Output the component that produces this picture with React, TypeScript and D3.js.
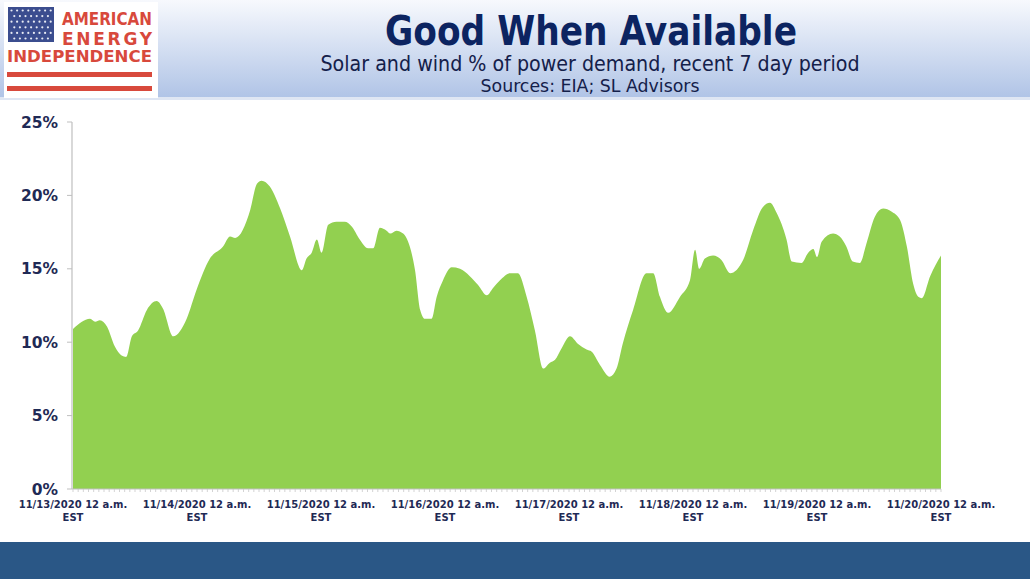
import * as d3 from 'd3';

// hours since 11/13/2020 12 a.m. EST, and solar + wind share of demand (%)
const hours = [
  0, 3.3, 4.3, 5.2, 6.6, 8.1, 9.4, 10.3, 11.4, 12.6, 14.3, 16.2, 17.4, 19.4, 22, 23.9,
  26.5, 29, 30.4, 31.4, 34.3, 35.6, 36.5, 38.1, 40.1, 42, 44.3, 45.2, 46.2, 47.2, 48.1,
  49.4, 51, 52.6, 53.9, 55.5, 57.1, 58.1, 59.4, 60.7, 61.4, 62.6, 63.9, 65.2, 66.2, 67.2,
  68.1, 69.4, 70.4, 71.6, 73.3, 74.9, 76.8, 78.4, 80.1, 81.3, 82.6, 84.6, 86.1, 87.8,
  89.4, 91, 92.3, 93.3, 94.6, 96.2, 97.7, 99.4, 100.4, 102, 103.9, 105.2, 106.4, 108.4,
  111, 112.3, 113.6, 115.2, 117.5, 119.4, 120.4, 121.2, 122.3, 123.9, 125.5, 127.2,
  129.7, 131.6, 133.5, 134.9, 136.2, 138.1, 139.1, 141, 142.3, 143.3, 144, 144.9, 147.1,
  148.4, 149.7, 150.9, 152.3, 153.6, 155.2, 156.8, 158.4, 160.1, 161.4, 162.6, 163.6,
  164.3, 165.9, 168,
];
const share = [
  10.9, 11.6, 11.4, 11.5, 11.05, 9.7, 9.1, 9.0, 10.4, 10.8, 12.2, 12.8, 12.3, 10.4, 11.6, 13.55,
  15.7, 16.5, 17.2, 17.1, 19.0, 20.8, 21.0, 20.6, 19.1, 17.2, 14.9, 15.7, 16.1, 17.0, 16.1,
  18.0, 18.2, 18.2, 17.9, 17.0, 16.4, 16.4, 17.8, 17.6, 17.4, 17.6, 17.4, 16.5, 14.9, 12.2,
  11.6, 11.6, 13.1, 14.2, 15.1, 15.0, 14.5, 13.9, 13.2, 13.7, 14.2, 14.7, 14.7, 13.1,
  10.8, 8.2, 8.6, 8.8, 9.6, 10.4, 9.9, 9.5, 9.35, 8.45, 7.65, 8.2, 9.9, 12.2,
  14.7, 14.7, 13.1, 12.0, 13.1, 14.2, 16.3, 15.0, 15.7, 15.9, 15.6, 14.7,
  15.6, 17.6, 19.2, 19.5, 18.8, 17.0, 15.5, 15.4, 16.1, 16.35, 15.8, 16.85, 17.4,
  17.2, 16.5, 15.5, 15.4, 16.75, 18.55, 19.1, 18.9, 18.3, 16.5, 14.0, 13.1,
  13.0, 14.5, 15.9,
];
const dayLabels = [
  '11/13/2020 12 a.m.', '11/14/2020 12 a.m.', '11/15/2020 12 a.m.', '11/16/2020 12 a.m.',
  '11/17/2020 12 a.m.', '11/18/2020 12 a.m.', '11/19/2020 12 a.m.', '11/20/2020 12 a.m.',
];
const yTicks = [0, 5, 10, 15, 20, 25];

const W = 1030;
const H = 579;
const navy = '#1f2a55';
const red = '#d8493c';
const cond = "'DejaVu Sans Condensed', 'DejaVu Sans', sans-serif";

export default function App() {
  const x = d3.scaleLinear().domain([0, 168]).range([73, 941]);
  const y = d3.scaleLinear().domain([0, 25]).range([489, 122]);

  const pts = hours.map((h, i) => [h, share[i]] as [number, number]);
  const area = d3.area<[number, number]>()
    .x(d => x(d[0]))
    .y0(y(0))
    .y1(d => y(d[1]))
    .curve(d3.curveMonotoneX);

  const hourTicks = d3.range(0, 169);
  const stars = d3.range(6).flatMap(r => d3.range(r % 2 ? 7 : 8).map(c => [c, r]));

  return (
    <div style={{ position: 'fixed', left: 0, top: 0, width: W, height: H }}>
      <svg width={W} height={H} style={{ display: 'block' }}>
        <defs>
          <linearGradient id="hdr" x1="0" y1="0" x2="0" y2="1">
            <stop offset="0" stopColor="#f7f9fd" />
            <stop offset="1" stopColor="#afc3e6" />
          </linearGradient>
        </defs>
        <rect width={W} height={H} fill="#fff" />

        {/* header band */}
        <rect x={0} y={0} width={W} height={99} fill="url(#hdr)" />
        <rect x={0} y={97} width={W} height={3} fill="#dfe6f3" />

        {/* logo */}
        <rect x={4} y={2} width={154} height={96} fill="#fff" />
        <rect x={8} y={7} width={46} height={35} fill="#3b4d8f" />
        {stars.map(([c, r], i) => (
          <circle key={i} cx={11.5 + c * 5.6 + (r % 2 ? 2.8 : 0)} cy={10.5 + r * 5.6} r={1.1} fill="#e8ebf4" />
        ))}
        <text x={152} y={25} textAnchor="end" fill={red} fontFamily="'DejaVu Sans', sans-serif"
          fontWeight="bold" fontSize={17} textLength={90} lengthAdjust="spacingAndGlyphs">AMERICAN</text>
        <text x={152} y={45} textAnchor="end" fill={red} fontFamily="'DejaVu Sans', sans-serif"
          fontWeight="bold" fontSize={17} textLength={90} lengthAdjust="spacing">ENERGY</text>
        <text x={7} y={62} fill={red} fontFamily="'DejaVu Sans', sans-serif"
          fontWeight="bold" fontSize={15.5} textLength={145} lengthAdjust="spacingAndGlyphs">INDEPENDENCE</text>
        <rect x={7} y={72} width={145} height={5} fill={red} />
        <rect x={7} y={86} width={145} height={5} fill={red} />

        {/* titles */}
        <text x={591} y={45} textAnchor="middle" fill="#0c2461" fontFamily={cond}
          fontWeight="bold" fontSize={40} textLength={412} lengthAdjust="spacingAndGlyphs">Good When Available</text>
        <text x={590} y={71} textAnchor="middle" fill="#14204a" fontFamily={cond}
          fontSize={22} textLength={539} lengthAdjust="spacingAndGlyphs">Solar and wind % of power demand, recent 7 day period</text>
        <text x={590} y={92} textAnchor="middle" fill="#14204a" fontFamily={cond}
          fontSize={18} textLength={219} lengthAdjust="spacingAndGlyphs">Sources: EIA; SL Advisors</text>

        {/* area */}
        <path d={area(pts) ?? ''} fill="#92d050" />

        {/* y axis */}
        <line x1={72} x2={72} y1={y(25)} y2={y(0)} stroke="#bfbfbf" strokeWidth={1.2} />
        {yTicks.map(t => (
          <g key={t}>
            <line x1={67} x2={72} y1={y(t)} y2={y(t)} stroke="#bfbfbf" />
            <text x={58} y={y(t) + 5.5} textAnchor="end" fill={navy} fontFamily="'DejaVu Sans', sans-serif"
              fontWeight="bold" fontSize={15.5}>{t}%</text>
          </g>
        ))}

        {/* x axis */}
        <line x1={72} x2={941} y1={y(0)} y2={y(0)} stroke="#bfbfbf" strokeWidth={1.2} />
        {hourTicks.map(h => (
          <line key={h} x1={x(h)} x2={x(h)} y1={y(0)} y2={y(0) + 3} stroke="#c8c8c8" strokeWidth={0.8} />
        ))}
        {dayLabels.map((lab, i) => (
          <g key={lab} fill={navy} fontFamily="'DejaVu Sans', sans-serif" fontWeight="bold" fontSize={10}>
            <text x={x(i * 24)} y={508} textAnchor="middle">{lab}</text>
            <text x={x(i * 24)} y={521} textAnchor="middle">EST</text>
          </g>
        ))}

        {/* footer */}
        <rect x={0} y={542} width={W} height={H - 542} fill="#2a5786" />
      </svg>
    </div>
  );
}
